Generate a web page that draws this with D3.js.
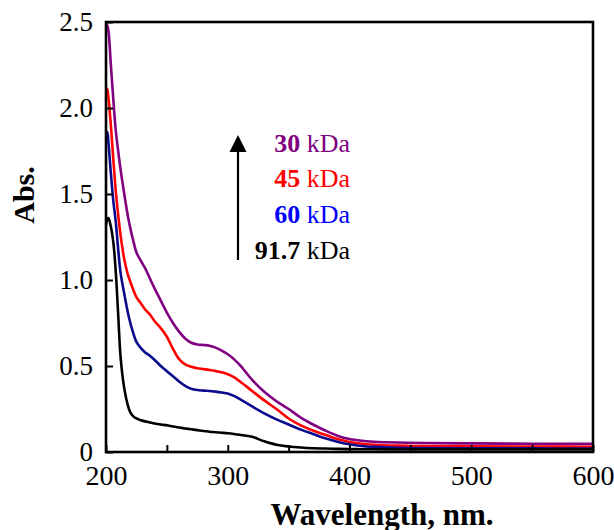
<!DOCTYPE html>
<html>
<head>
<meta charset="utf-8">
<script src="https://cdn.jsdelivr.net/npm/d3@7"></script>
<style>
  body { margin: 0; background: #fff; }
  svg { display: block; font-family: "Liberation Serif", "Times New Roman", serif; }
</style>
</head>
<body>
<div id="chart"></div>
<script>
// wavelengths (nm) shared by all series
const wavelength = [200, 201, 202, 204, 206, 208, 210, 212, 215, 218, 220, 222, 225, 228, 232, 236, 240, 245, 250, 255, 260, 265, 270, 275, 280, 285, 290, 295, 300, 305, 310, 320, 330, 340, 350, 360, 370, 380, 390, 400, 410, 420, 440, 460, 500, 550, 600];

// absorbance
const abs30 = [2.49, 2.48, 2.45, 2.25, 2.05, 1.87, 1.75, 1.64, 1.50, 1.37, 1.30, 1.24, 1.16, 1.12, 1.07, 1.01, 0.95, 0.88, 0.81, 0.75, 0.70, 0.66, 0.635, 0.625, 0.622, 0.618, 0.607, 0.59, 0.568, 0.54, 0.505, 0.42, 0.35, 0.295, 0.25, 0.20, 0.16, 0.125, 0.095, 0.075, 0.065, 0.06, 0.055, 0.052, 0.05, 0.048, 0.047];
const abs45 = [2.10, 2.11, 2.06, 1.90, 1.70, 1.52, 1.38, 1.26, 1.12, 1.03, 0.99, 0.95, 0.90, 0.87, 0.83, 0.80, 0.76, 0.72, 0.67, 0.60, 0.54, 0.51, 0.495, 0.487, 0.482, 0.477, 0.471, 0.463, 0.452, 0.435, 0.41, 0.355, 0.30, 0.25, 0.195, 0.155, 0.125, 0.10, 0.075, 0.058, 0.048, 0.042, 0.037, 0.035, 0.033, 0.032, 0.03];
const abs60 = [1.85, 1.86, 1.80, 1.62, 1.46, 1.34, 1.18, 1.04, 0.92, 0.81, 0.75, 0.70, 0.64, 0.61, 0.58, 0.56, 0.535, 0.50, 0.47, 0.44, 0.41, 0.385, 0.368, 0.36, 0.357, 0.355, 0.351, 0.346, 0.34, 0.326, 0.307, 0.265, 0.225, 0.19, 0.16, 0.13, 0.105, 0.08, 0.06, 0.045, 0.035, 0.03, 0.025, 0.023, 0.022, 0.021, 0.02];
const abs917 = [1.32, 1.35, 1.36, 1.31, 1.22, 1.05, 0.80, 0.55, 0.37, 0.27, 0.23, 0.21, 0.195, 0.186, 0.178, 0.172, 0.166, 0.16, 0.155, 0.148, 0.142, 0.137, 0.132, 0.127, 0.122, 0.118, 0.115, 0.112, 0.109, 0.105, 0.10, 0.088, 0.062, 0.042, 0.032, 0.026, 0.022, 0.02, 0.018, 0.017, 0.016, 0.016, 0.015, 0.015, 0.015, 0.015, 0.015];

const seriesNames = ["30", "45", "60", "91.7"];
const seriesValues = [abs30, abs45, abs60, abs917];
const lineColors = ["#800080", "#ff0000", "#0a0a8c", "#000000"];
const labelColors = ["#800080", "#ff0000", "#0000ff", "#000000"];

const xTicks = [200, 250, 300, 350, 400, 450, 500, 550, 600];
const yTicks = [0, 0.5, 1.0, 1.5, 2.0, 2.5];

const serif = '"Liberation Serif", "Times New Roman", serif';

const margin = { top: 22, right: 21, bottom: 78, left: 106 };
const width = 614 - margin.left - margin.right;
const height = 530 - margin.top - margin.bottom;

const svg = d3.select("#chart").append("svg")
  .attr("width", 614)
  .attr("height", 530);

const g = svg.append("g")
  .attr("transform", `translate(${margin.left},${margin.top})`);

const x = d3.scaleLinear().domain([200, 600]).range([0, width]);
const y = d3.scaleLinear().domain([0, 2.5]).range([height, 0]);

// lines
const line = d3.line()
  .x(d => x(d[0]))
  .y(d => y(d[1]))
  .curve(d3.curveCatmullRom.alpha(0.5));

seriesValues.forEach((vals, i) => {
  g.append("path")
    .datum(wavelength.map((w, j) => [w, vals[j]]))
    .attr("fill", "none")
    .attr("stroke", lineColors[i])
    .attr("stroke-width", 2.6)
    .attr("stroke-linejoin", "round")
    .attr("d", line);
});

// axes (ticks point inward)
const xAxis = g.append("g")
  .attr("transform", `translate(0,${height})`)
  .call(d3.axisBottom(x)
    .tickValues(xTicks)
    .tickSizeInner(-7)
    .tickSizeOuter(0)
    .tickFormat(d => d % 100 === 0 ? d : ""));

xAxis.attr("font-family", serif).attr("font-size", 28);
xAxis.selectAll("text")
  .attr("y", 33)
  .attr("dy", null)
  .style("fill", "#000");

const yAxis = g.append("g")
  .call(d3.axisLeft(y)
    .tickValues(yTicks)
    .tickSizeInner(-7)
    .tickSizeOuter(0)
    .tickFormat(d => d === 0 ? "0" : d3.format(".1f")(d)));

yAxis.attr("font-family", serif).attr("font-size", 27);
yAxis.selectAll("text")
  .attr("x", -13)
  .style("fill", "#000");

g.selectAll(".domain").remove();
g.selectAll(".tick line").attr("stroke", "#000").attr("stroke-width", 2);

// frame
g.append("rect")
  .attr("width", width)
  .attr("height", height)
  .attr("fill", "none")
  .attr("stroke", "#000")
  .attr("stroke-width", 2.6);

// axis titles
svg.append("text")
  .attr("x", 382)
  .attr("y", 525)
  .attr("text-anchor", "middle")
  .style("font-size", "31px")
  .style("font-weight", "bold")
  .text("Wavelength, nm.");

svg.append("text")
  .attr("transform", "translate(34,195) rotate(-90)")
  .attr("text-anchor", "middle")
  .style("font-size", "30px")
  .style("font-weight", "bold")
  .text("Abs.");

// legend with arrow
svg.append("line")
  .attr("x1", 238).attr("y1", 260)
  .attr("x2", 238).attr("y2", 150)
  .attr("stroke", "#000")
  .attr("stroke-width", 2.2);

svg.append("path")
  .attr("d", "M238,135 L229.5,152 L246.5,152 Z")
  .attr("fill", "#000");

const legendBase = [152, 187, 223, 259];
seriesNames.forEach((name, i) => {
  const t = svg.append("text")
    .attr("x", 350)
    .attr("y", legendBase[i])
    .attr("text-anchor", "end")
    .style("font-size", "26px")
    .style("fill", labelColors[i]);
  t.append("tspan").style("font-weight", "bold").text(name);
  t.append("tspan").text(" kDa");
});
</script>
</body>
</html>
